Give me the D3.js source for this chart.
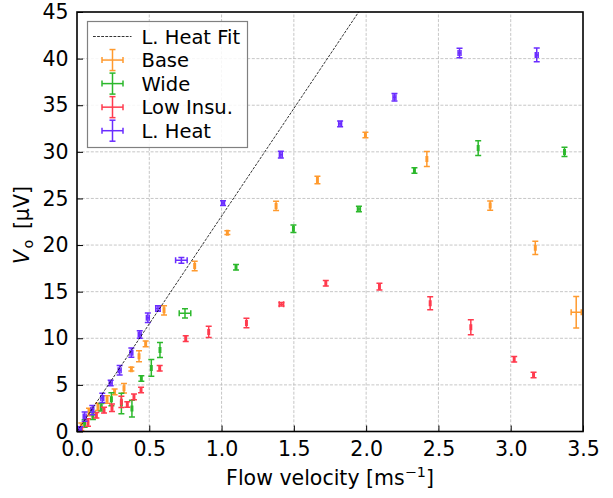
<!DOCTYPE html>
<html>
<head>
<meta charset="utf-8">
<script src="https://cdn.jsdelivr.net/npm/d3@7"></script>
<style>
  body { margin: 0; background: #fff; }
  svg text { font-family: "DejaVu Sans", sans-serif; }
</style>
</head>
<body>
<div id="chart"></div>
<script>
// ---- data ----
const baseX    = [0.03, 0.083, 0.145, 0.208, 0.26, 0.325, 0.376, 0.429, 0.475, 0.602, 0.814, 1.04, 1.377, 1.663, 1.995, 2.42, 2.858, 3.17, 3.453];
const baseY    = [0.5, 2.1, 2.64, 3.43, 4.25, 4.64, 6.68, 8.07, 9.4, 13.0, 17.75, 21.33, 24.2, 26.98, 31.8, 29.24, 24.23, 19.7, 12.79];
const baseXerr = [0.005, 0.005, 0.005, 0.005, 0.005, 0.005, 0.005, 0.005, 0.005, 0.005, 0.005, 0.005, 0.005, 0.005, 0.005, 0.005, 0.005, 0.005, 0.035];
const baseYerr = [0.4, 0.4, 0.4, 0.4, 0.3, 0.5, 0.2, 0.6, 0.3, 0.5, 0.5, 0.2, 0.5, 0.4, 0.3, 0.8, 0.5, 0.7, 1.7];

const wideX    = [0.053, 0.11, 0.168, 0.238, 0.307, 0.38, 0.445, 0.514, 0.574, 0.747, 1.10, 1.497, 1.95, 2.334, 2.775, 3.372];
const wideY    = [0.86, 1.7, 2.6, 3.46, 3.0, 2.46, 5.68, 6.82, 8.74, 12.68, 17.62, 21.76, 23.87, 28.0, 30.4, 29.99];
const wideXerr = [0.005, 0.005, 0.005, 0.005, 0.005, 0.005, 0.005, 0.005, 0.005, 0.04, 0.005, 0.005, 0.01, 0.005, 0.005, 0.005];
const wideYerr = [0.4, 0.4, 0.4, 0.7, 1.1, 0.9, 0.3, 0.9, 0.8, 0.5, 0.3, 0.4, 0.3, 0.3, 0.8, 0.5];

const lowX     = [0.03, 0.076, 0.134, 0.187, 0.242, 0.307, 0.348, 0.394, 0.443, 0.572, 0.752, 0.911, 1.172, 1.414, 1.721, 2.092, 2.443, 2.724, 3.024, 3.158];
const lowY     = [0.14, 0.96, 1.75, 2.29, 2.54, 3.18, 2.9, 3.71, 4.46, 6.79, 9.96, 10.68, 11.64, 13.65, 15.9, 15.54, 13.75, 11.18, 7.75, 6.06];
const lowXerr  = [0.005, 0.005, 0.005, 0.005, 0.005, 0.005, 0.005, 0.005, 0.005, 0.005, 0.005, 0.005, 0.005, 0.015, 0.005, 0.005, 0.005, 0.005, 0.005, 0.005];
const lowYerr  = [0.3, 0.4, 0.3, 0.3, 0.4, 0.6, 0.3, 0.3, 0.3, 0.3, 0.3, 0.6, 0.5, 0.2, 0.3, 0.35, 0.7, 0.8, 0.3, 0.3];

const heatX    = [0.02, 0.053, 0.106, 0.175, 0.233, 0.295, 0.376, 0.434, 0.49, 0.56, 0.722, 1.01, 1.41, 1.82, 2.196, 2.646, 3.18];
const heatY    = [0.2, 1.6, 2.3, 3.6, 5.2, 6.57, 8.46, 10.4, 12.2, 13.2, 18.36, 24.5, 29.7, 33.0, 35.86, 40.6, 40.4];
const heatXerr = [0.01, 0.01, 0.01, 0.01, 0.01, 0.01, 0.01, 0.01, 0.01, 0.015, 0.04, 0.01, 0.01, 0.01, 0.01, 0.01, 0.01];
const heatYerr = [0.3, 0.5, 0.5, 0.5, 0.3, 0.5, 0.5, 0.4, 0.5, 0.3, 0.3, 0.25, 0.35, 0.3, 0.4, 0.5, 0.75];

const fitSlope = 23.1;   // L. Heat linear fit, µV per m/s
const xTicks = [0, 0.5, 1.0, 1.5, 2.0, 2.5, 3.0, 3.5];
const yTicks = [0, 5, 10, 15, 20, 25, 30, 35, 40, 45];

const series = [
  {name: "Base",      color: "#ff9a2e", x: baseX, y: baseY, xe: baseXerr, ye: baseYerr},
  {name: "Wide",      color: "#2cb82c", x: wideX, y: wideY, xe: wideXerr, ye: wideYerr},
  {name: "Low Insu.", color: "#ff3b4e", x: lowX,  y: lowY,  xe: lowXerr,  ye: lowYerr},
  {name: "L. Heat",   color: "#6a2cff", x: heatX, y: heatY, xe: heatXerr, ye: heatYerr}
];

const width = 613, height = 498;
const margin = {left: 77, right: 30, top: 12, bottom: 66.5};

const svg = d3.select("#chart").append("svg")
  .attr("width", width).attr("height", height);

const x = d3.scaleLinear().domain([0, 3.5]).range([margin.left, width - margin.right]);
const y = d3.scaleLinear().domain([0, 45]).range([height - margin.bottom, margin.top]);

svg.append("clipPath").attr("id", "plotClip")
  .append("rect")
  .attr("x", x(0)).attr("y", y(45))
  .attr("width", x(3.5) - x(0)).attr("height", y(0) - y(45));

// grid
const grid = svg.append("g").attr("stroke", "#b8b8b8").attr("stroke-width", 0.8)
  .attr("stroke-dasharray", "3,1.6");
grid.selectAll(".gx").data(xTicks.slice(1, -1)).join("line")
  .attr("x1", d => x(d)).attr("x2", d => x(d))
  .attr("y1", y(0)).attr("y2", y(45));
grid.selectAll(".gy").data(yTicks.slice(1, -1)).join("line")
  .attr("y1", d => y(d)).attr("y2", d => y(d))
  .attr("x1", x(0)).attr("x2", x(3.5));

// error bars
const plot = svg.append("g").attr("clip-path", "url(#plotClip)");
const cap = 3;
series.forEach(s => {
  const pts = s.x.map((v, i) => ({x: v, y: s.y[i], xe: s.xe[i], ye: s.ye[i]}));
  const g = plot.append("g").attr("stroke", s.color).attr("stroke-width", 1.5).attr("fill", "none");
  pts.forEach(p => {
    const cx = x(p.x), cy = y(p.y);
    const x0 = x(p.x - p.xe), x1 = x(p.x + p.xe);
    const y0 = y(p.y - p.ye), y1 = y(p.y + p.ye);
    g.append("line").attr("x1", x0).attr("x2", x1).attr("y1", cy).attr("y2", cy);
    g.append("line").attr("x1", cx).attr("x2", cx).attr("y1", y0).attr("y2", y1);
    g.append("line").attr("x1", x0).attr("x2", x0).attr("y1", cy - cap).attr("y2", cy + cap);
    g.append("line").attr("x1", x1).attr("x2", x1).attr("y1", cy - cap).attr("y2", cy + cap);
    g.append("line").attr("x1", cx - cap).attr("x2", cx + cap).attr("y1", y0).attr("y2", y0);
    g.append("line").attr("x1", cx - cap).attr("x2", cx + cap).attr("y1", y1).attr("y2", y1);
  });
});

// fit line
plot.append("line")
  .attr("x1", x(0)).attr("y1", y(0))
  .attr("x2", x(3.5)).attr("y2", y(3.5 * fitSlope))
  .attr("stroke", "#000").attr("stroke-width", 0.8)
  .attr("stroke-dasharray", "2.8,1.3");

// axes
const fs = 20.5;
const bottomAxis = svg.append("g").attr("transform", `translate(0,${y(0)})`)
  .call(d3.axisBottom(x).tickValues(xTicks).tickFormat(d3.format(".1f"))
    .tickSizeInner(-6).tickSizeOuter(0).tickPadding(10));
const leftAxis = svg.append("g").attr("transform", `translate(${x(0)},0)`)
  .call(d3.axisLeft(y).tickValues(yTicks).tickFormat(d3.format("d"))
    .tickSizeInner(-6).tickSizeOuter(0).tickPadding(8.5));
[bottomAxis, leftAxis].forEach(a => {
  a.select(".domain").remove();
  a.selectAll("text").attr("font-size", fs).attr("fill", "#000")
    .attr("font-family", "DejaVu Sans, sans-serif");
  a.selectAll("line").attr("stroke", "#000").attr("stroke-width", 1);
});

// frame
svg.append("rect")
  .attr("x", x(0)).attr("y", y(45))
  .attr("width", x(3.5) - x(0)).attr("height", y(0) - y(45))
  .attr("fill", "none").attr("stroke", "#000").attr("stroke-width", 1.6);

// axis labels
const xl = svg.append("text")
  .attr("x", (x(0) + x(3.5)) / 2).attr("y", 485)
  .attr("text-anchor", "middle").attr("font-size", fs);
xl.append("tspan").text("Flow velocity [ms");
xl.append("tspan").attr("dy", -8.5).attr("font-size", fs * 0.7).text("\u22121");
xl.append("tspan").attr("dy", 8.5).text("]");

const yl = svg.append("text")
  .attr("transform", `translate(28.5,225) rotate(-90)`)
  .attr("text-anchor", "middle").attr("font-size", fs);
yl.append("tspan").attr("font-style", "italic").text("V");
yl.append("tspan").attr("dx", 1.5).attr("dy", 4).attr("font-size", fs * 0.7).text("o");
yl.append("tspan").attr("dx", 4).attr("dy", -4).text(" [\u03bcV]");

// legend
const lfs = 19.5;
const legend = svg.append("g");
legend.append("rect")
  .attr("x", 87.5).attr("y", 21.5).attr("width", 160).attr("height", 126)
  .attr("fill", "#fff").attr("fill-opacity", 0.85)
  .attr("stroke", "#808080").attr("stroke-width", 1.2);
const rowY = i => 36.5 + i * 23.55;
legend.append("line")
  .attr("x1", 93).attr("x2", 131.5).attr("y1", rowY(0)).attr("y2", rowY(0))
  .attr("stroke", "#000").attr("stroke-width", 0.8).attr("stroke-dasharray", "2.8,1.3");
legend.append("text").attr("x", 141.5).attr("y", rowY(0) + 7).attr("font-size", lfs).text("L. Heat Fit");
series.forEach((s, i) => {
  const cy = rowY(i + 1), cx = 112.5, h = 10.5, v = 10.5;
  const g = legend.append("g").attr("stroke", s.color).attr("stroke-width", 1.5);
  g.append("line").attr("x1", cx - h).attr("x2", cx + h).attr("y1", cy).attr("y2", cy);
  g.append("line").attr("x1", cx).attr("x2", cx).attr("y1", cy - v).attr("y2", cy + v);
  g.append("line").attr("x1", cx - h).attr("x2", cx - h).attr("y1", cy - cap).attr("y2", cy + cap);
  g.append("line").attr("x1", cx + h).attr("x2", cx + h).attr("y1", cy - cap).attr("y2", cy + cap);
  g.append("line").attr("x1", cx - cap).attr("x2", cx + cap).attr("y1", cy - v).attr("y2", cy - v);
  g.append("line").attr("x1", cx - cap).attr("x2", cx + cap).attr("y1", cy + v).attr("y2", cy + v);
  legend.append("text").attr("x", 141.5).attr("y", cy + 7).attr("font-size", lfs).text(s.name);
});
</script>
</body>
</html>
